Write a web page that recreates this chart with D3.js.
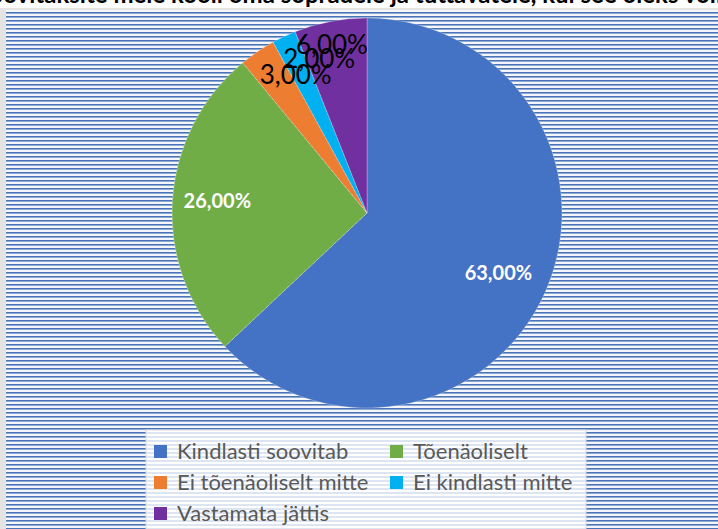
<!DOCTYPE html>
<html>
<head>
<meta charset="utf-8">
<script src="https://cdn.jsdelivr.net/npm/d3@7"></script>
<style>
  html, body { margin: 0; padding: 0; background: #fff; }
  svg { display: block; }
</style>
</head>
<body>
<script>
const w = 718;
const h = 529;

// data
const categories = ["Kindlasti soovitab", "Tõenäoliselt", "Ei tõenäoliselt mitte", "Ei kindlasti mitte", "Vastamata jättis"];
const values = [63, 26, 3, 2, 6];
const colors = ["#4472c4", "#70ad47", "#ed7d31", "#00b0f0", "#7030a0"];
const title = "Kas soovitaksite meie kooli oma sõpradele ja tuttavatele, kui see oleks võimalik?";

// label layout: [radius fraction, angle nudge in degrees]
const labelLayout = [[0.74, 1], [0.77, 1], [0.8, 7], [0.83, 8], [0.88, -1]];

const fmt = v => v.toFixed(2).replace(".", ",") + "%";

const svg = d3.select("body").append("svg").attr("width", w).attr("height", h);
const defs = svg.append("defs");

// striped patterns
const stripes = defs.append("pattern").attr("id", "stripes")
    .attr("patternUnits", "userSpaceOnUse").attr("width", 8).attr("height", 4);
stripes.append("rect").attr("width", 8).attr("height", 4).attr("fill", "#f4f6fb");
stripes.append("rect").attr("y", 0).attr("width", 8).attr("height", 1).attr("fill", "#4a74b8");
stripes.append("rect").attr("y", 1).attr("width", 8).attr("height", 1).attr("fill", "#8ca8d4");

const lightStripes = defs.append("pattern").attr("id", "lightStripes")
    .attr("patternUnits", "userSpaceOnUse").attr("width", 8).attr("height", 4);
lightStripes.append("rect").attr("width", 8).attr("height", 4).attr("fill", "#ffffff");
lightStripes.append("rect").attr("y", 0).attr("width", 8).attr("height", 2).attr("fill", "#dde5f3");

// chart frame
svg.append("rect").attr("width", w).attr("height", h).attr("fill", "#fff");
svg.append("rect").attr("x", 0).attr("y", 8).attr("width", 6).attr("height", h - 8).attr("fill", "#e4e4e4");
svg.append("rect").attr("x", 6).attr("y", 8).attr("width", w - 6).attr("height", 2).attr("fill", "#e4e4e4");
svg.append("rect").attr("x", 6).attr("y", 10).attr("width", w - 6).attr("height", h - 10).attr("fill", "url(#stripes)");

// clipped title (only the bottom of the glyphs shows)
svg.append("text")
    .attr("x", w / 2).attr("y", 3)
    .attr("text-anchor", "middle")
    .attr("font-family", "Lato, sans-serif")
    .attr("font-weight", "bold")
    .attr("font-size", "24px")
    .attr("fill", "#000")
    .text(title);

////  Pie  ////
const cx = 367, cy = 213, r = 195;
const pie = d3.pie().sort(null).value(d => d)(values);
const arc = d3.arc().innerRadius(0).outerRadius(r);

const g = svg.append("g").attr("transform", `translate(${cx},${cy})`);
g.selectAll("path.slice")
    .data(pie)
    .enter()
    .append("path")
    .attr("class", "slice")
    .attr("d", arc)
    .attr("fill", (d, i) => colors[i])
    .attr("stroke", "#ffffff")
    .attr("stroke-opacity", 0.35)
    .attr("stroke-width", 0.75);

const labelPos = (d, i) => {
    const a = (d.startAngle + d.endAngle) / 2 + labelLayout[i][1] * Math.PI / 180;
    const rr = r * labelLayout[i][0];
    return [rr * Math.sin(a), -rr * Math.cos(a)];
};

g.selectAll("text.lbl")
    .data(pie)
    .enter()
    .append("text")
    .attr("class", "lbl")
    .attr("x", (d, i) => labelPos(d, i)[0])
    .attr("y", (d, i) => labelPos(d, i)[1])
    .attr("dy", "0.36em")
    .attr("text-anchor", "middle")
    .attr("font-family", "Lato, sans-serif")
    .attr("font-weight", d => d.value >= 10 ? "bold" : "normal")
    .attr("font-size", d => d.value >= 10 ? "20px" : "26px")
    .attr("fill", d => d.value >= 10 ? "#ffffff" : "#000000")
    .text(d => fmt(d.value));

////  Legend  ////
const lx = 146, ly = 430, lw = 440, lh = 110;
svg.append("rect").attr("x", lx).attr("y", ly).attr("width", lw).attr("height", lh)
    .attr("fill", "url(#lightStripes)").attr("stroke", "#d9d9d9").attr("stroke-width", 1);

const colX = [154, 390];
const rowY = [451, 482, 513];
const legend = svg.selectAll("g.leg")
    .data(categories)
    .enter()
    .append("g")
    .attr("class", "leg")
    .attr("transform", (d, i) => `translate(${colX[i % 2]},${rowY[Math.floor(i / 2)]})`);
legend.append("rect")
    .attr("x", 0).attr("y", -6).attr("width", 13).attr("height", 13)
    .attr("fill", (d, i) => colors[i]);
legend.append("text")
    .attr("x", 23).attr("y", 0).attr("dy", "0.35em")
    .attr("font-family", "Lato, sans-serif")
    .attr("font-size", "22px")
    .attr("fill", "#595959")
    .text(d => d);
</script>
</body>
</html>
